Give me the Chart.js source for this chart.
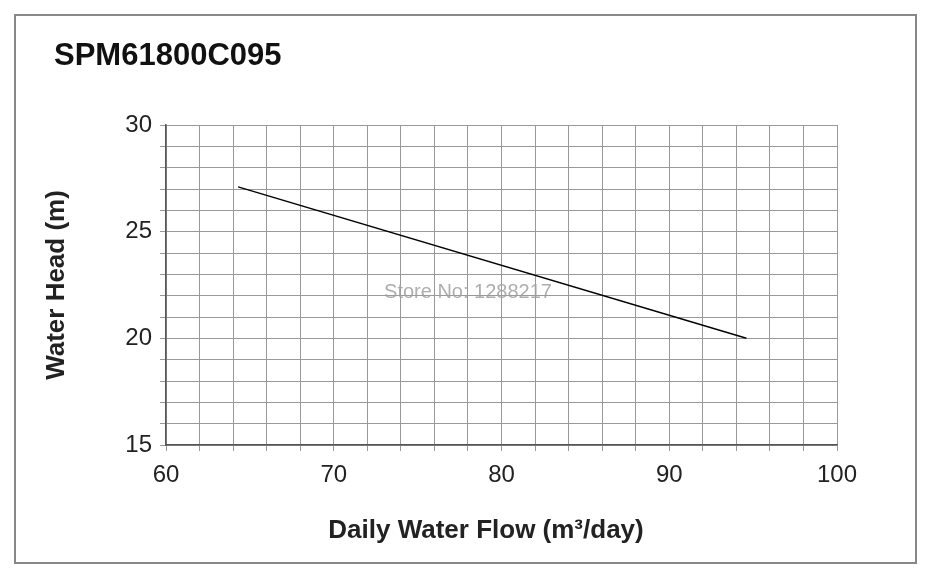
<!DOCTYPE html>
<html>
<head>
<meta charset="utf-8">
<script src="https://cdn.jsdelivr.net/npm/chart.js@4"></script>
<style>
  body { margin: 0; background: #fff; }
  #frame { position: absolute; left: 14px; top: 14px; width: 903px; height: 550px; border: 2px solid #888; box-sizing: border-box; }
  #wrap { position: absolute; left: 0; top: 0; width: 936px; height: 579px; }
</style>
</head>
<body>
<div id="frame"></div>
<div id="wrap"><canvas id="c" width="936" height="579"></canvas></div>
<script>
// pump curve
const flowValues = [64.3, 94.6];
const headValues = [27.1, 20.0];
const chartTitle = "SPM61800C095";
const xTitle = "Daily Water Flow (m³/day)";
const yTitle = "Water Head (m)";
const watermark = "Store No: 1288217";

const points = flowValues.map(function (x, i) { return { x: x, y: headValues[i] }; });
const font = "Arial, 'Liberation Sans'";

const overlay = {
    id: "overlay",
    afterDraw: function (chart) {
        const ctx = chart.ctx;
        ctx.save();
        ctx.fillStyle = "#111";
        ctx.textBaseline = "middle";
        ctx.font = "bold 31px " + font;
        ctx.fillText(chartTitle, 54, 56);
        ctx.fillStyle = "#222";
        ctx.font = "bold 26px " + font;
        ctx.textAlign = "center";
        ctx.fillText(xTitle, 486, 531);
        ctx.save();
        ctx.translate(57, 285);
        ctx.rotate(-Math.PI / 2);
        ctx.fillText(yTitle, 0, 0);
        ctx.restore();
        ctx.fillStyle = "rgba(160,160,160,0.85)";
        ctx.font = "20px " + font;
        ctx.fillText(watermark, 468, 292);
        ctx.restore();
    }
};

new Chart(document.getElementById("c"), {
    type: "scatter",
    data: {
        datasets: [{
            data: points,
            showLine: true,
            borderColor: "#000",
            borderWidth: 1.5,
            pointRadius: 0,
            fill: false
        }]
    },
    options: {
        responsive: false,
        animation: false,
        layout: { padding: { top: 125, right: 99, left: 0, bottom: 0 } },
        plugins: { legend: { display: false }, tooltip: { enabled: false } },
        scales: {
            x: {
                type: "linear", min: 60, max: 100,
                afterFit: function (s) { s.height = 134; },
                ticks: {
                    stepSize: 2, autoSkip: false, maxRotation: 0, minRotation: 0,
                    color: "#222", padding: 10,
                    font: { size: 24, family: font },
                    callback: function (v) { return v % 10 === 0 ? v : ""; }
                },
                grid: { color: "#999", lineWidth: 1, tickLength: 6 },
                border: { color: "#555", width: 1.5 }
            },
            y: {
                min: 15, max: 30,
                afterFit: function (s) { s.width = 166; },
                ticks: {
                    stepSize: 1, autoSkip: false, color: "#222", padding: 8,
                    font: { size: 24, family: font },
                    callback: function (v) { return v % 5 === 0 ? v : ""; }
                },
                grid: { color: "#999", lineWidth: 1, tickLength: 6 },
                border: { color: "#555", width: 1.5 }
            }
        }
    },
    plugins: [overlay]
});
</script>
</body>
</html>
